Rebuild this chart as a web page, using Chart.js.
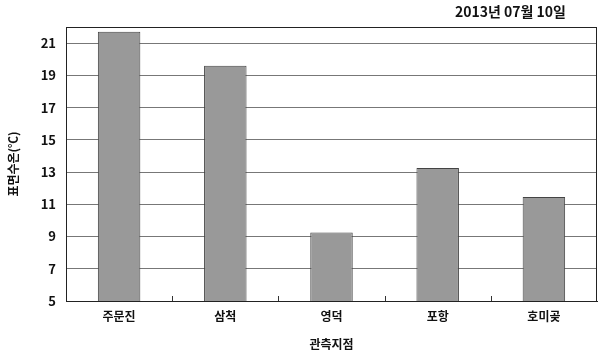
<!DOCTYPE html>
<html><head><meta charset="utf-8">
<script src="https://cdn.jsdelivr.net/npm/chart.js@4"></script>
<style>html,body{margin:0;padding:0;background:#fff}#wrap{width:601px;height:356px}</style>
</head><body><div id="wrap"><canvas id="c" width="601" height="356"></canvas></div>
<script>
const categories = ['주문진', '삼척', '영덕', '포항', '호미곶'];
const values = [21.7, 19.6, 9.25, 13.25, 11.45];
const yTicks = [5, 7, 9, 11, 13, 15, 17, 19, 21];
const titleText = '2013년 07월 10일';
const yTitle = '표면수온(℃)';
const xTitle = '관측지점';
const FONT = '"Noto Sans CJK KR", sans-serif';

const extras = {
  id: 'extras',
  afterDraw(chart) {
    const ctx = chart.ctx, a = chart.chartArea;
    ctx.save();
    ctx.strokeStyle = '#222';
    ctx.lineWidth = 1;
    ctx.strokeRect(a.left + 0.5, a.top + 0.5, a.right - a.left - 1, a.bottom - a.top);
    const xs = chart.scales.x;
    ctx.strokeStyle = '#333';
    for (let i = 1; i < categories.length; i++) {
      const x = Math.round((xs.getPixelForValue(i - 1) + xs.getPixelForValue(i)) / 2) + 0.5;
      ctx.beginPath(); ctx.moveTo(x, a.bottom); ctx.lineTo(x, a.bottom - 5); ctx.stroke();
    }
    ctx.fillStyle = '#111';
    ctx.font = 'bold 14px ' + FONT;
    ctx.textAlign = 'right'; ctx.textBaseline = 'middle';
    ctx.fillText(titleText, 566, 12);
    ctx.restore();
  }
};

new Chart(document.getElementById('c'), {
  type: 'bar',
  data: { labels: categories, datasets: [{ data: values, backgroundColor: '#999999', borderColor: '#444444', borderWidth: 1, categoryPercentage: 1, barPercentage: 0.4 }] },
  options: {
    responsive: false, animation: false,
    layout: { padding: { top: 27, right: 4, left: 2, bottom: 0 } },
    plugins: { legend: { display: false }, tooltip: { enabled: false } },
    scales: {
      x: {
        grid: { display: false, drawTicks: false },
        border: { display: true, color: '#222' },
        ticks: { color: '#111', font: { family: FONT, size: 12, weight: 'bold' }, padding: 8 },
        title: { display: true, text: xTitle, color: '#111', font: { family: FONT, size: 12, weight: 'bold' }, padding: { top: 12 } },
        afterFit(s) { s.height = 55; }
      },
      y: {
        min: 5, max: 22,
        afterBuildTicks(s) { s.ticks = yTicks.map(v => ({ value: v })); },
        grid: { color: '#777', drawTicks: false },
        border: { display: true, color: '#222' },
        ticks: { color: '#111', font: { family: FONT, size: 13, weight: 'bold' }, padding: 10 },
        title: { display: true, text: yTitle, color: '#111', font: { family: FONT, size: 12, weight: 'bold' } },
        afterFit(s) { s.width = 64; }
      }
    }
  },
  plugins: [extras]
});
</script></body></html>
